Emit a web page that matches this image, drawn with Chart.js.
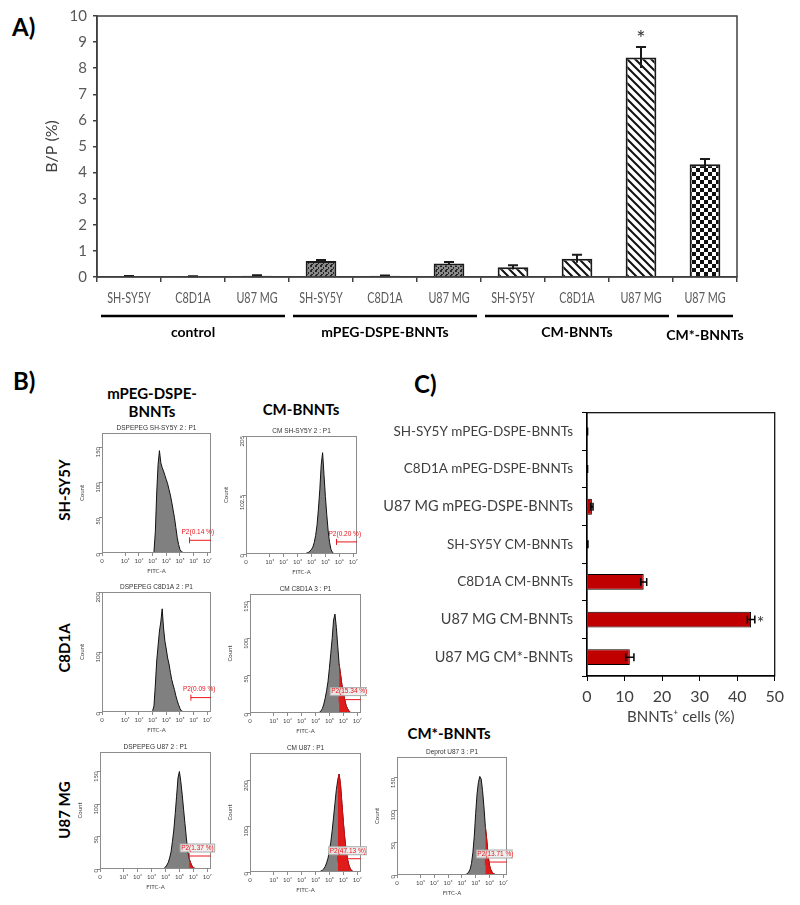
<!DOCTYPE html>
<html lang="en">
<head>
<meta charset="UTF-8" />
<title>BNNTs uptake</title>
<script src="https://cdn.jsdelivr.net/npm/chart.js"></script>
<style>
  body { margin: 0; background: #fff; width: 800px; height: 905px; position: relative; overflow: hidden; font-family: Lato, "Open Sans", sans-serif; }
  .caixa { position: absolute; }
  .rot { position: absolute; font-weight: bold; color: #000; line-height: 1; white-space: nowrap; }
  .vert { transform: translate(-50%, -50%) rotate(-90deg); }
</style>
</head>
<body>
  <div class="rot" style="left:12px;top:15px;font-size:24px">A)</div>
  <div class="caixa" style="left:0;top:0;width:760px;height:345px"><canvas id="graficoA"></canvas></div>

  <div class="rot" style="left:13px;top:369px;font-size:24px">B)</div>
  <div class="rot" style="left:414px;top:372px;font-size:24px">C)</div>

  <div class="rot" style="left:152px;top:384px;font-size:15px;transform:translateX(-50%);text-align:center;line-height:18px">mPEG-DSPE-<br />BNNTs</div>
  <div class="rot" style="left:301px;top:402px;font-size:15px;transform:translateX(-50%)">CM-BNNTs</div>
  <div class="rot" style="left:449px;top:726px;font-size:15px;transform:translateX(-50%)">CM*-BNNTs</div>

  <div class="rot vert" style="left:64px;top:490px;font-size:15px">SH-SY5Y</div>
  <div class="rot vert" style="left:64px;top:648px;font-size:15px">C8D1A</div>
  <div class="rot vert" style="left:64px;top:810px;font-size:15px">U87 MG</div>

  <div class="caixa" style="left:78px;top:421px;width:139px;height:154px"><canvas id="h1"></canvas></div>
  <div class="caixa" style="left:222px;top:424px;width:141px;height:152px"><canvas id="h2"></canvas></div>
  <div class="caixa" style="left:78px;top:580px;width:139px;height:154px"><canvas id="h3"></canvas></div>
  <div class="caixa" style="left:226px;top:582px;width:141px;height:153px"><canvas id="h4"></canvas></div>
  <div class="caixa" style="left:76px;top:740px;width:141px;height:151px"><canvas id="h5"></canvas></div>
  <div class="caixa" style="left:226px;top:741px;width:141px;height:153px"><canvas id="h6"></canvas></div>
  <div class="caixa" style="left:373px;top:745px;width:140px;height:152px"><canvas id="h7"></canvas></div>

  <div class="caixa" style="left:380px;top:395px;width:410px;height:335px"><canvas id="graficoC"></canvas></div>

<script>
  // ---------- A) B/P (%) ----------
  var categoriasA = ["SH-SY5Y", "C8D1A", "U87 MG", "SH-SY5Y", "C8D1A", "U87 MG", "SH-SY5Y", "C8D1A", "U87 MG", "U87 MG"];
  var valoresA = [0.03, 0.02, 0.05, 0.61, 0.05, 0.52, 0.37, 0.7, 8.41, 4.32];
  var errosA = [0.01, 0.01, 0.02, 0.04, 0.01, 0.05, 0.08, 0.15, 0.4, 0.2];
  var padroesA = ["solido", "solido", "solido", "pontos", "pontos", "pontos", "listras", "listras", "listras", "xadrez"];
  var asteriscoA = ["", "", "", "", "", "", "", "", "*", ""];
  var gruposA = ["control", "mPEG-DSPE-BNNTs", "CM-BNNTs", "CM*-BNNTs"];
  var inicioGrupoA = [0, 3, 6, 9];
  var fimGrupoA = [2, 5, 8, 9];

  // ---------- C) BNNTs+ cells (%) ----------
  var categoriasC = ["SH-SY5Y mPEG-DSPE-BNNTs", "C8D1A mPEG-DSPE-BNNTs", "U87 MG mPEG-DSPE-BNNTs", "SH-SY5Y CM-BNNTs", "C8D1A CM-BNNTs", "U87 MG CM-BNNTs", "U87 MG CM*-BNNTs"];
  var valoresC = [0.1, 0.1, 1.3, 0.2, 15.1, 43.7, 11.4];
  var errosC = [0.05, 0.05, 0.3, 0.05, 0.8, 1.0, 1.1];
  var asteriscoC = ["", "", "", "", "", "*", ""];

  // ---------- B) flow cytometry histograms ----------
  var fitcBins = [3.0, 3.1, 3.2, 3.3, 3.4, 3.5, 3.6, 3.7, 3.8, 3.9, 4.0, 4.1, 4.2, 4.3, 4.4, 4.5, 4.6, 4.7, 4.8, 4.9, 5.0, 5.1, 5.2, 5.3, 5.4, 5.5, 5.6, 5.7, 5.8, 5.9, 6.0, 6.1, 6.2, 6.3, 6.4, 6.5, 6.6, 6.7, 6.8, 6.9];
  var countsMpegSH = [0, 2, 30, 85, 125, 145, 128, 121, 116, 110, 104, 98, 90, 82, 72, 61, 50, 36, 22, 12, 5, 2, 1, 0, 0, 0, 0, 0, 0, 0, 0, 0, 0, 0, 0, 0, 0, 0, 0, 0];
  var countsCmSH = [0, 0, 0, 0, 0, 0, 1, 2, 3, 5, 8, 12, 20, 32, 50, 78, 112, 155, 176, 138, 100, 68, 40, 20, 8, 3, 1, 0, 0, 0, 0, 0, 0, 0, 0, 0, 0, 0, 0, 0];
  var countsMpegC8 = [2, 10, 45, 85, 110, 135, 150, 172, 140, 118, 105, 90, 80, 66, 54, 45, 37, 27, 19, 12, 6, 2, 1, 0, 0, 0, 0, 0, 0, 0, 0, 0, 0, 0, 0, 0, 0, 0, 0, 0];
  var countsCmC8 = [0, 0, 0, 0, 0, 0, 0, 0, 0, 0, 0, 0, 0, 1, 3, 6, 12, 20, 30, 42, 60, 80, 100, 125, 133, 115, 90, 66, 52, 38, 27, 18, 10, 6, 3, 1, 0, 0, 0, 0];
  var countsMpegU87 = [0, 0, 0, 0, 0, 0, 0, 0, 0, 1, 3, 6, 10, 17, 26, 42, 60, 85, 112, 140, 150, 135, 115, 92, 70, 48, 28, 16, 10, 5, 2, 1, 0, 0, 0, 0, 0, 0, 0, 0];
  var countsCmU87 = [0, 0, 0, 0, 0, 0, 0, 0, 0, 0, 0, 0, 0, 1, 2, 4, 7, 12, 20, 30, 45, 65, 90, 120, 150, 180, 200, 214, 190, 150, 110, 75, 48, 28, 15, 7, 3, 1, 0, 0];
  var countsCmStarU87 = [0, 0, 0, 0, 0, 0, 0, 0, 0, 0, 0, 0, 0, 1, 2, 5, 9, 18, 35, 60, 95, 125, 143, 152, 148, 130, 105, 75, 55, 30, 15, 8, 4, 2, 1, 0, 0, 0, 0, 0];

  var facsTitulos = ["DSPEPEG SH-SY5Y 2 : P1", "CM SH-SY5Y 2 : P1", "DSPEPEG C8D1A 2 : P1", "CM C8D1A 3 : P1", "DSPEPEG U87 2 : P1", "CM U87 : P1", "Deprot U87 3 : P1"];
  var facsYMax = [170, 205, 200, 160, 180, 260, 182];
  var facsYPasso = [50, 100, 100, 50, 50, 100, 50];
  var gateInicio = [5.7, 5.8, 5.8, 5.7, 5.7, 5.6, 5.7];
  var gateAltura = [18, 21, 24, 18, 20, 29, 20];
  var gateTexto = ["P2(0.14 %)", "P2(0.20 %)", "P2(0.09 %)", "P2(15.34 %)", "P2(1.37 %)", "P2(47.13 %)", "P2(13.71 %)"];
  var gatePositivo = [false, false, false, true, true, true, true];
  var fitcTickPos = [-0.7, 1, 2, 3, 4, 5, 6, 7];
  var fitcTickLabels = ["0", "10¹", "10²", "10³", "10⁴", "10⁵", "10⁶", "10⁷"];

  Chart.defaults.font.family = "Lato, 'Open Sans', sans-serif";
  Chart.defaults.animation = false;

  function criarPadrao(ctx, tipo) {
    var c = document.createElement("canvas");
    var g = c.getContext("2d");
    if (tipo == "solido") {
      c.width = 2; c.height = 2;
      g.fillStyle = "#333";
      g.fillRect(0, 0, 2, 2);
    }
    if (tipo == "pontos") {
      c.width = 5; c.height = 5;
      g.fillStyle = "#8a8a8a";
      g.fillRect(0, 0, 5, 5);
      g.fillStyle = "#262626";
      g.fillRect(0, 0, 2, 2);
      g.fillRect(3, 2, 1, 2);
      g.fillRect(1, 4, 2, 1);
    }
    if (tipo == "listras") {
      c.width = 8; c.height = 8;
      g.fillStyle = "#fff";
      g.fillRect(0, 0, 8, 8);
      g.strokeStyle = "#111";
      g.lineWidth = 2;
      g.beginPath();
      g.moveTo(-2, -2); g.lineTo(10, 10);
      g.moveTo(-2, 6); g.lineTo(2, 10);
      g.moveTo(6, -2); g.lineTo(10, 2);
      g.stroke();
    }
    if (tipo == "xadrez") {
      c.width = 8; c.height = 8;
      g.fillStyle = "#fff";
      g.fillRect(0, 0, 8, 8);
      g.fillStyle = "#111";
      g.fillRect(0, 0, 4, 4);
      g.fillRect(4, 4, 4, 4);
    }
    return ctx.createPattern(c, "repeat");
  }

  var moldura = {
    id: "moldura",
    afterDraw: function (chart, args, opts) {
      var a = chart.chartArea;
      var g = chart.ctx;
      g.save();
      g.strokeStyle = opts.cor || "#404040";
      g.lineWidth = opts.largura || 1.5;
      g.strokeRect(a.left, a.top, a.right - a.left, a.bottom - a.top);
      g.restore();
    }
  };

  // ---------- panel A ----------
  var ctxA = document.getElementById("graficoA").getContext("2d");
  var errosPluginA = {
    id: "errosA",
    afterDatasetsDraw: function (chart) {
      var meta = chart.getDatasetMeta(0);
      var y = chart.scales.y;
      var x = chart.scales.x;
      var g = chart.ctx;
      g.save();
      g.strokeStyle = "#1a1a1a";
      g.lineWidth = 2;
      meta.data.forEach(function (barra, i) {
        var topo = y.getPixelForValue(valoresA[i] + errosA[i]);
        var base = y.getPixelForValue(valoresA[i] - errosA[i]);
        g.beginPath();
        g.moveTo(barra.x, base);
        g.lineTo(barra.x, topo);
        g.moveTo(barra.x - 5, topo);
        g.lineTo(barra.x + 5, topo);
        g.stroke();
        if (asteriscoA[i]) {
          g.fillStyle = "#333";
          g.font = "22px Lato";
          g.textAlign = "center";
          g.textBaseline = "alphabetic";
          g.fillText(asteriscoA[i], barra.x, topo - 1);
        }
      });
      // condensed category labels, like the narrow font of the original
      g.fillStyle = "#595959";
      g.font = "15px Lato";
      g.textAlign = "center";
      g.textBaseline = "middle";
      categoriasA.forEach(function (nome, i) {
        g.save();
        g.translate(x.getPixelForValue(i), 298);
        g.scale(0.72, 1);
        g.fillText(nome, 0, 0);
        g.restore();
      });
      // group brackets under the category labels
      var meio = (x.getPixelForValue(1) - x.getPixelForValue(0)) / 2;
      for (var k = 0; k < gruposA.length; k++) {
        var x0 = x.getPixelForValue(inicioGrupoA[k]) - meio + 4;
        var x1 = x.getPixelForValue(fimGrupoA[k]) + meio - 4;
        g.strokeStyle = "#000";
        g.lineWidth = 2.5;
        g.beginPath();
        g.moveTo(x0, 316);
        g.lineTo(x1, 316);
        g.stroke();
        g.fillStyle = "#000";
        g.font = "bold 14px Lato";
        g.textAlign = "center";
        g.textBaseline = "middle";
        g.fillText(gruposA[k], (x0 + x1) / 2, k == 3 ? 335 : 332);
      }
      g.restore();
    }
  };

  new Chart(ctxA, {
    type: "bar",
    data: {
      labels: categoriasA,
      datasets: [
        {
          data: valoresA,
          backgroundColor: padroesA.map(function (p) { return criarPadrao(ctxA, p); }),
          borderColor: "#1a1a1a",
          borderWidth: 2,
          barPercentage: 0.48,
          categoryPercentage: 1,
        },
      ],
    },
    options: {
      responsive: true,
      maintainAspectRatio: false,
      layout: { padding: { left: 40, top: 16, right: 23, bottom: 40 } },
      plugins: { legend: { display: false }, tooltip: { enabled: false }, moldura: { cor: "#404040", largura: 1.5 } },
      scales: {
        x: {
          ticks: { display: false },
          grid: { drawOnChartArea: false, tickLength: 5, color: "#404040", lineWidth: 1.5, offset: true },
          border: { color: "#404040", width: 1.5 },
          afterFit: function (s) { s.height = 28; },
        },
        y: {
          min: 0,
          max: 10,
          ticks: { stepSize: 1, color: "#595959", font: { size: 15 }, padding: 6 },
          grid: { drawOnChartArea: false, tickLength: 4, color: "#404040", lineWidth: 1.5 },
          border: { color: "#404040", width: 1.5 },
          title: { display: true, text: "B/P (%)", color: "#404040", font: { size: 16 }, padding: 2 },
          afterFit: function (s) { s.width = 57; },
        },
      },
    },
    plugins: [errosPluginA, moldura],
  });

  // ---------- panel C ----------
  var errosPluginC = {
    id: "errosC",
    afterDatasetsDraw: function (chart) {
      var meta = chart.getDatasetMeta(0);
      var x = chart.scales.x;
      var g = chart.ctx;
      g.save();
      g.strokeStyle = "#000";
      g.lineWidth = 1.5;
      meta.data.forEach(function (barra, i) {
        var a = x.getPixelForValue(valoresC[i] - errosC[i]);
        var b = x.getPixelForValue(valoresC[i] + errosC[i]);
        g.beginPath();
        g.moveTo(a, barra.y); g.lineTo(b, barra.y);
        g.moveTo(a, barra.y - 4); g.lineTo(a, barra.y + 4);
        g.moveTo(b, barra.y - 4); g.lineTo(b, barra.y + 4);
        g.stroke();
        if (asteriscoC[i]) {
          g.fillStyle = "#333";
          g.font = "18px Lato";
          g.textAlign = "left";
          g.textBaseline = "middle";
          g.fillText(asteriscoC[i], b + 2, barra.y + 4);
        }
      });
      g.restore();
    }
  };

  new Chart(document.getElementById("graficoC"), {
    type: "bar",
    data: {
      labels: categoriasC,
      datasets: [
        {
          data: valoresC,
          backgroundColor: "#c00000",
          borderColor: "#000",
          borderWidth: 1,
          barPercentage: 0.42,
          categoryPercentage: 1,
        },
      ],
    },
    options: {
      indexAxis: "y",
      responsive: true,
      maintainAspectRatio: false,
      layout: { padding: { left: 0, top: 10, right: 10, bottom: 0 } },
      plugins: { legend: { display: false }, tooltip: { enabled: false }, moldura: { cor: "#000", largura: 1.2 } },
      scales: {
        x: {
          min: 0,
          max: 50,
          ticks: { stepSize: 10, color: "#404040", font: { size: 16 }, padding: 6 },
          grid: { drawOnChartArea: false, tickLength: 5, color: "#000" },
          border: { color: "#000", width: 1.2 },
          title: { display: true, text: "BNNTs⁺ cells (%)", color: "#404040", font: { size: 15 }, padding: 4 },
          afterFit: function (s) { s.height = 54; },
        },
        y: {
          ticks: {
            color: "#404040",
            padding: 9,
            autoSkip: false,
            font: function (c) { return { size: categoriasC[c.index] && categoriasC[c.index].indexOf("U87") == 0 ? 14.5 : 13.5 }; },
          },
          grid: { drawOnChartArea: false, tickLength: 5, color: "#000", offset: true },
          border: { color: "#000", width: 1.2 },
          afterFit: function (s) { s.width = 207; },
        },
      },
    },
    plugins: [errosPluginC, moldura],
  });

  // ---------- panel B ----------
  var facsPlugin = {
    id: "facs",
    afterDraw: function (chart, args, opts) {
      var k = opts.indice;
      var a = chart.chartArea;
      var g = chart.ctx;
      var xs = chart.scales.x;
      var ys = chart.scales.y;
      g.save();
      g.strokeStyle = "#8c8c8c";
      g.lineWidth = 1;
      g.strokeRect(a.left + 0.5, a.top + 0.5, a.right - a.left - 1, a.bottom - a.top - 1);
      g.fillStyle = "#333";
      g.font = "6.5px 'Liberation Sans', sans-serif";
      g.textAlign = "center";
      g.textBaseline = "bottom";
      g.fillText(facsTitulos[k], (a.left + a.right) / 2, a.top - 2);

      var gx = xs.getPixelForValue(gateInicio[k]);
      var gy = ys.getPixelForValue(gateAltura[k]);
      g.strokeStyle = "#e8161b";
      g.beginPath();
      g.moveTo(gx, gy); g.lineTo(a.right, gy);
      g.moveTo(gx, gy - 3); g.lineTo(gx, gy + 3);
      g.stroke();
      g.font = "6.5px 'Liberation Sans', sans-serif";
      g.textAlign = "left";
      g.textBaseline = "middle";
      var tx = gx - 8;
      var ty = gy - 8;
      if (gatePositivo[k]) {
        var w = g.measureText(gateTexto[k]).width;
        g.fillStyle = "rgba(238,238,238,0.9)";
        g.fillRect(tx - 1, ty - 4, w + 2, 8);
        g.strokeStyle = "#aaa";
        g.strokeRect(tx - 1, ty - 4, w + 2, 8);
      }
      g.fillStyle = "#e8161b";
      g.fillText(gateTexto[k], tx, ty);
      g.restore();
    }
  };

  function histograma(id, k, counts) {
    var cinza = fitcBins.map(function (b, j) { return { x: b, y: counts[j] }; });
    var conjuntos = [
      { data: cinza, backgroundColor: "#808080", borderColor: "#111", borderWidth: 1, fill: "origin", pointRadius: 0, tension: 0, order: 1 },
    ];
    if (gatePositivo[k]) {
      var vermelho = [];
      fitcBins.forEach(function (b, j) {
        if (b >= gateInicio[k] - 0.001) vermelho.push({ x: b, y: counts[j] });
      });
      conjuntos.push({ data: vermelho, backgroundColor: "#e01b1b", borderColor: "#c40f0f", borderWidth: 1, fill: "origin", pointRadius: 0, tension: 0, order: 0 });
    }
    new Chart(document.getElementById(id), {
      type: "line",
      data: { datasets: conjuntos },
      options: {
        responsive: true,
        maintainAspectRatio: false,
        layout: { padding: { left: 0, top: 12, right: 6, bottom: 0 } },
        plugins: { legend: { display: false }, tooltip: { enabled: false }, facs: { indice: k } },
        scales: {
          x: {
            type: "linear",
            min: -0.7,
            max: 7.27,
            afterBuildTicks: function (s) { s.ticks = fitcTickPos.map(function (v) { return { value: v }; }); },
            ticks: { color: "#444", font: { size: 6 }, padding: 1, maxRotation: 0, autoSkip: false, callback: function (v, i) { return fitcTickLabels[i]; } },
            grid: { drawOnChartArea: false, tickLength: 3, color: "#8c8c8c" },
            border: { display: false },
            title: { display: true, text: "FITC-A", color: "#444", font: { size: 6 }, padding: 0 },
            afterFit: function (s) { s.height = 22; },
          },
          y: {
            min: 0,
            max: facsYMax[k],
            ticks: { stepSize: facsYPasso[k], includeBounds: false, color: "#444", font: { size: 6 }, padding: 1, minRotation: 90, maxRotation: 90 },
            grid: { drawOnChartArea: false, tickLength: 3, color: "#8c8c8c" },
            border: { display: false },
            title: { display: true, text: "Count", color: "#444", font: { size: 6 }, padding: 0 },
            afterFit: function (s) { s.width = 24; },
          },
        },
      },
      plugins: [facsPlugin],
    });
  }

  histograma("h1", 0, countsMpegSH);
  histograma("h2", 1, countsCmSH);
  histograma("h3", 2, countsMpegC8);
  histograma("h4", 3, countsCmC8);
  histograma("h5", 4, countsMpegU87);
  histograma("h6", 5, countsCmU87);
  histograma("h7", 6, countsCmStarU87);
</script>
</body>
</html>
